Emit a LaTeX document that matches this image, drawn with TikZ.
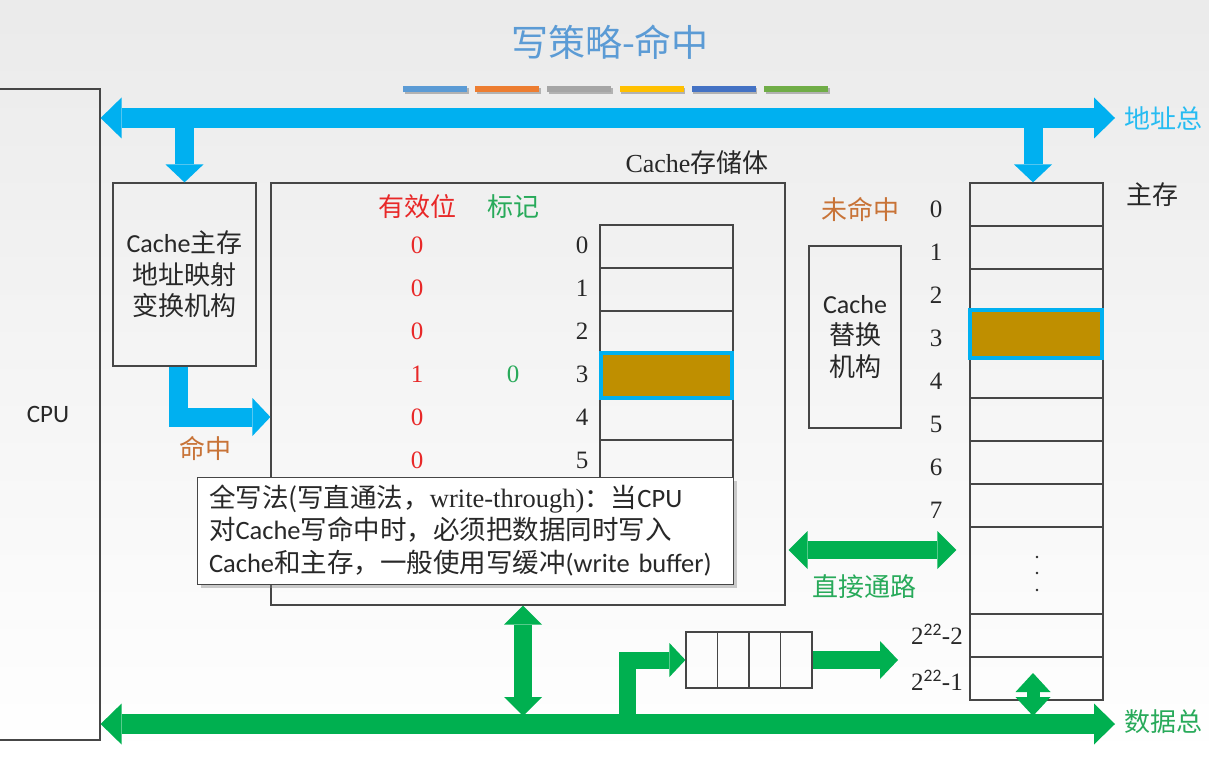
\documentclass[tikz,border=0pt]{standalone}
\usepackage{fontspec}
\setmainfont{Liberation Serif}
\setsansfont{Carlito}
\newfontfamily\cjk{Noto Sans CJK SC}
\usetikzlibrary{arrows.meta, positioning, shadows, calc}
\definecolor{buscyan}{RGB}{0,176,240}
\definecolor{busgreen}{RGB}{0,176,80}
\definecolor{hitorange}{RGB}{200,115,55}
\definecolor{validred}{RGB}{232,40,40}
\definecolor{taggreen}{RGB}{40,170,90}
\definecolor{linebrown}{RGB}{191,143,0}
\definecolor{titleblue}{RGB}{91,155,213}
\definecolor{framegray}{RGB}{70,70,70}
\definecolor{inkgray}{RGB}{40,40,40}
\definecolor{barblue}{RGB}{91,155,213}
\definecolor{barorange}{RGB}{237,125,49}
\definecolor{bargray}{RGB}{165,165,165}
\definecolor{baryellow}{RGB}{255,192,0}
\definecolor{bardblue}{RGB}{68,114,196}
\definecolor{bargreen}{RGB}{112,173,71}
\newcommand{\zh}[1]{{\cjk #1}}

\begin{document}
\begin{tikzpicture}[x=1pt, y=-1pt,
    frame/.style={draw=framegray, line width=1.2pt, inner sep=0pt},
    cell/.style={frame, minimum width=133pt, minimum height=43pt},
    hit/.style={draw=buscyan, line width=4pt, fill=linebrown, inner sep=0pt},
    num/.style={inner sep=0pt, text=inkgray, font=\fontsize{25}{25}\selectfont},
    zhlbl/.style={inner sep=0pt, font={\cjk\fontsize{26}{26}\selectfont}},
    boxtxt/.style={align=center, text=inkgray, font={\fontsize{26}{31.5}\selectfont}},
    bus/.style={line width=20pt,
                {Triangle[length=21pt,width=41pt,line width=0pt]}-{Triangle[length=21pt,width=41pt,line width=0pt]}},
    fat/.style={line width=19pt, line join=miter,
                -{Triangle[length=18pt,width=38pt,line width=0pt]}},
    fatboth/.style={line width=18pt,
                {Triangle[length=19pt,width=38pt,line width=0pt]}-{Triangle[length=19pt,width=38pt,line width=0pt]}},
  ]

    \useasboundingbox (0,0) rectangle (1209,759);
    \clip (0,0) rectangle (1209,759);
    \fill[top color=black!8, bottom color=white] (0,0) rectangle (1209,759);

    % title and colour strip
    \node[text=titleblue, font={\cjk\fontsize{37}{37}\selectfont}] (title) at (610,42) {写策略-命中};
    \foreach \c [count=\i from 0] in {barblue,barorange,bargray,baryellow,bardblue,bargreen} {
      \fill[black!30] (404.5+72.2*\i,88) rectangle ++(64,6);
      \fill[\c] (403+72.2*\i,86) rectangle ++(64,6);
    }

    % blocks
    \node[frame, minimum width=104pt, minimum height=651pt,
          font=\sffamily\fontsize{25}{25}\selectfont, text=inkgray] (cpu) at (48,414.5) {CPU};
    \node[frame, minimum width=143pt, minimum height=183pt, boxtxt] (map) at (184.5,274.5)
         {{\sffamily Cache}\zh{主存}\\\zh{地址映射}\\\zh{变换机构}};
    \node[frame, minimum width=514pt, minimum height=422pt] (store) at (528,394) {};
    \node[num, font=\fontsize{26}{26}\selectfont] (storelbl) at (697,163) {Cache\zh{存储体}};
    \node[frame, minimum width=92pt, minimum height=182pt, boxtxt] (repl) at (855,337)
         {{\sffamily Cache}\\\zh{替换}\\\zh{机构}};

    % cache lines
    \foreach \i in {0,...,7}
      \node[cell] (cl\i) at (666.5,246.5+43*\i) {};
    \node[hit, minimum width=131pt, minimum height=45pt] (clhit) at (cl3) {};
    \node[zhlbl, text=validred] (validhd) at (417,207) {有效位};
    \node[zhlbl, text=taggreen] (taghd) at (513,207) {标记};
    \foreach \v [count=\i from 0] in {0,0,0,1,0,0}
      \node[num, text=validred] (vb\i) at (417,245+43*\i) {\v};
    \node[num, text=taggreen] (tag3) at (513,374) {0};
    \foreach \i in {0,...,5}
      \node[num] (cn\i) at (582,245+43*\i) {\i};

    % main memory
    \foreach \i in {0,...,7}
      \node[cell] (mm\i) at (1036.5,204.5+43*\i) {};
    \node[cell, minimum height=87pt] (mmgap) at (1036.5,570.5) {};
    \node[cell] (mmb) at (1036.5,635.5) {};
    \node[cell] (mmc) at (1036.5,678.5) {};
    \node[hit, minimum width=132pt, minimum height=48pt] (mmhit) at (1036,334) {};
    \foreach \d in {557,573,590}
      \fill[inkgray] (1037,\d) circle (1.3pt);
    \foreach \i in {0,...,7}
      \node[num] (mn\i) at (936,209+43*\i) {\i};
    \node[num] (mnb) at (937,634) {2\textsuperscript{\sffamily 22}-2};
    \node[num] (mnc) at (937,680) {2\textsuperscript{\sffamily 22}-1};
    \node[zhlbl, text=inkgray] (mainlbl) at (1152,195) {主存};
    \node[zhlbl, text=hitorange] (misslbl) at (860,209) {未命中};

    % write buffer
    \foreach \i in {0,...,3}
      \node[frame, minimum width=31.5pt, minimum height=56pt] (wb\i) at (701.75+31.5*\i,660) {};

    % address bus
    \coordinate (abusR) at (1115,118);
    \draw[bus, buscyan] (cpu.east |- abusR) -- (abusR);
    \node[zhlbl, text=buscyan!85!white, anchor=west] (abuslbl) at (1124,118) {地址总};
    \draw[fat, buscyan] (map.north |- abusR) -- (map.north);
    \draw[fat, buscyan] ([xshift=-3.5pt]mm0.north |- abusR) -- ([xshift=-3.5pt]mm0.north);

    % hit path
    \coordinate (hitend) at (store.west |- 0,417);
    \draw[fat, buscyan] ([xshift=-6.5pt]map.south) |- (hitend);
    \node[zhlbl, text=hitorange] (hitlbl) at (205,448) {命中};

    % data bus
    \coordinate (dbusR) at (1115,724);
    \draw[bus, busgreen] (cpu.east |- dbusR) -- (dbusR);
    \node[zhlbl, text=taggreen, anchor=west] (dbuslbl) at (1124,722) {数据总};

    % data paths
    \coordinate (storetap) at (523,716);
    \draw[fatboth, busgreen] ([xshift=-5pt]store.south) -- (storetap);
    \draw[fatboth, busgreen] ([xshift=3pt]store.east |- 0,550) -- ([xshift=-13pt]mmgap.west |- 0,550);
    \node[zhlbl, text=taggreen] (directlbl) at (864,587) {直接通路};
    \coordinate (wbtap) at (627,724);
    \draw[busgreen, line width=17pt, line join=miter,
          -{Triangle[length=16pt,width=34pt,line width=0pt]}] (wbtap) |- (wb0.west);
    \coordinate (wbend) at (898,660);
    \draw[fat, busgreen, line width=18pt] (wb3.east) -- (wbend);
    \coordinate (memtop) at (1033,673);
    \coordinate (memtap) at (1033,716);
    \draw[busgreen, line width=13pt,
          {Triangle[length=19pt,width=35pt,line width=0pt]}-{Triangle[length=19pt,width=35pt,line width=0pt]}]
          (memtop) -- (memtap);

    % note
    \node[draw=framegray, line width=1pt, fill=white,
          drop shadow={shadow xshift=4pt, shadow yshift=-4pt, opacity=0.4},
          text width=512pt, inner xsep=12pt, minimum height=107pt, align=left,
          text=inkgray, font=\fontsize{26.5}{32.5}\selectfont] (note) at (465,530.5)
         {\zh{全写法(写直通法，}write-through)\zh{：当}{\sffamily CPU}\\
          \zh{对}{\sffamily Cache}\zh{写命中时，必须把数据同时写入}\\
          {\sffamily Cache}\zh{和主存，一般使用写缓冲}{\sffamily (write buffer)}};

  \end{tikzpicture}
\end{document}
